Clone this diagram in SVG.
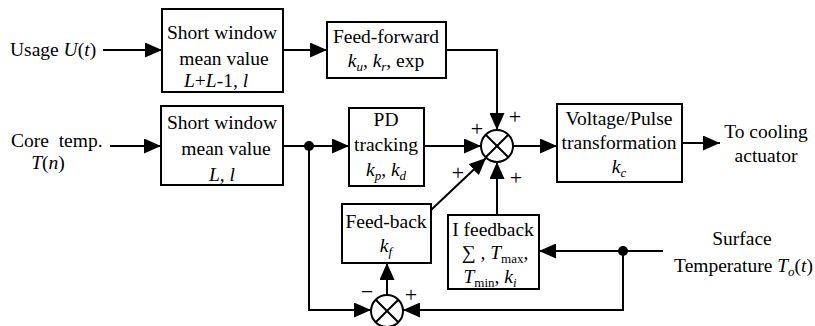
<svg xmlns="http://www.w3.org/2000/svg" width="815" height="326" viewBox="0 0 815 326">
<style>
text{font-family:"Liberation Serif","Times New Roman",serif;font-size:19.5px;fill:#000}
.c{text-anchor:middle}
.i{font-style:italic}
.s{font-size:13px}
.p{font-size:22px}
rect{fill:#fff;stroke:#000;stroke-width:2}
.ln{fill:none;stroke:#000;stroke-width:2}
.ar{fill:none;stroke:#000;stroke-width:2;marker-end:url(#a)}
circle.j{fill:#fff;stroke:#000;stroke-width:2}
</style>
<defs>
<marker id="a" viewBox="0 0 17 15" refX="17" refY="7.5" markerWidth="17" markerHeight="15" markerUnits="userSpaceOnUse" orient="auto"><path d="M0,0 L17,7.5 L0,15 z" fill="#000"/></marker>
</defs>

<g id="connectors">
<path class="ar" d="M103,50 H162"/>
<path class="ar" d="M283,50 H327"/>
<path class="ar" d="M446,50 H497 V130"/>
<path class="ar" d="M110,146 H161"/>
<path class="ar" d="M283,146 H349"/>
<circle cx="309" cy="146" r="5" fill="#000"/>
<path class="ar" d="M424,146 H481"/>
<path class="ar" d="M431,210 L486,158"/>
<path class="ar" d="M497,215 V162"/>
<path class="ar" d="M513,146 H557"/>
<path class="ar" d="M682,143 H720"/>
<path class="ar" d="M663,251 H539"/>
<circle cx="623" cy="251" r="5" fill="#000"/>
<path class="ar" d="M623,251 V310 H403"/>
<path class="ar" d="M309,146 V310 H371"/>
<path class="ar" d="M387,295 V263"/>
</g>

<g id="usage"><text x="10" y="56">Usage <tspan class="i">U</tspan>(<tspan class="i">t</tspan>)</text></g>
<g id="core"><text x="11" y="147" xml:space="preserve">Core  temp.</text><text x="48" y="169" class="c"><tspan class="i">T</tspan>(<tspan class="i">n</tspan>)</text></g>

<g id="swm1">
<rect x="162" y="9" width="121" height="83"/>
<text x="222" y="39" class="c">Short window</text>
<text x="224" y="65" class="c">mean value</text>
<text x="216" y="87" class="c"><tspan class="i">L</tspan>+<tspan class="i">L</tspan>-1, <tspan class="i">l</tspan></text>
</g>

<g id="swm2">
<rect x="161" y="106" width="122" height="79"/>
<text x="222" y="129" class="c">Short window</text>
<text x="226" y="155" class="c">mean value</text>
<text x="222" y="181" class="c"><tspan class="i">L</tspan>, <tspan class="i">l</tspan></text>
</g>

<g id="feedforward">
<rect x="327" y="22" width="119" height="56"/>
<text x="386" y="43" class="c">Feed-forward</text>
<text x="386" y="67" class="c"><tspan class="i">k<tspan class="s" dy="4">u</tspan></tspan><tspan dy="-4">, </tspan><tspan class="i">k<tspan class="s" dy="4">r</tspan></tspan><tspan dy="-4">, exp</tspan></text>
</g>

<g id="pd">
<rect x="349" y="108" width="75" height="78"/>
<text x="386" y="126" class="c">PD</text>
<text x="386" y="151" class="c">tracking</text>
<text x="386" y="176" class="c"><tspan class="i">k<tspan class="s" dy="4">p</tspan></tspan><tspan dy="-4">, </tspan><tspan class="i">k<tspan class="s" dy="4">d</tspan></tspan></text>
</g>

<g id="sum1">
<circle class="j" cx="497" cy="146" r="16"/>
<path class="ln" d="M485.7,134.7 L508.3,157.3 M508.3,134.7 L485.7,157.3"/>
<text x="515" y="124" class="c p">+</text>
<text x="477" y="136" class="c p">+</text>
<text x="458" y="180" class="c p">+</text>
<text x="516" y="185" class="c p">+</text>
</g>

<g id="voltage">
<rect x="557" y="104" width="125" height="78"/>
<text x="619" y="125" class="c">Voltage/Pulse</text>
<text x="619" y="149" class="c">transformation</text>
<text x="619" y="173" class="c"><tspan class="i">k<tspan class="s" dy="4">c</tspan></tspan></text>
</g>

<g id="out"><text x="766" y="138" class="c">To cooling</text><text x="766" y="162" class="c">actuator</text></g>

<g id="feedback">
<rect x="342" y="204" width="89" height="59"/>
<text x="386" y="228" class="c">Feed-back</text>
<text x="386" y="252" class="c"><tspan class="i">k<tspan class="s" dy="4">f</tspan></tspan></text>
</g>

<g id="ifeedback">
<rect x="448" y="215" width="91" height="74"/>
<text x="493" y="236" class="c">I feedback</text>
<text x="495" y="259" class="c">∑ , <tspan class="i">T</tspan><tspan class="s" dy="4">max</tspan><tspan dy="-4">,</tspan></text>
<text x="490" y="283" class="c"><tspan class="i">T</tspan><tspan class="s" dy="4">min</tspan><tspan dy="-4">, </tspan><tspan class="i">k<tspan class="s" dy="4">i</tspan></tspan></text>
</g>

<g id="sum2">
<circle class="j" cx="387" cy="311" r="16"/>
<path class="ln" d="M375.7,299.7 L398.3,322.3 M398.3,299.7 L375.7,322.3"/>
<text x="367" y="299" class="c p">−</text>
<text x="411" y="302" class="c p">+</text>
</g>

<g id="surface"><text x="742" y="245" class="c">Surface</text><text x="813" y="272" text-anchor="end">Temperature <tspan class="i">T<tspan class="s" dy="4">o</tspan></tspan><tspan dy="-4">(</tspan><tspan class="i">t</tspan>)</text></g>
</svg>
